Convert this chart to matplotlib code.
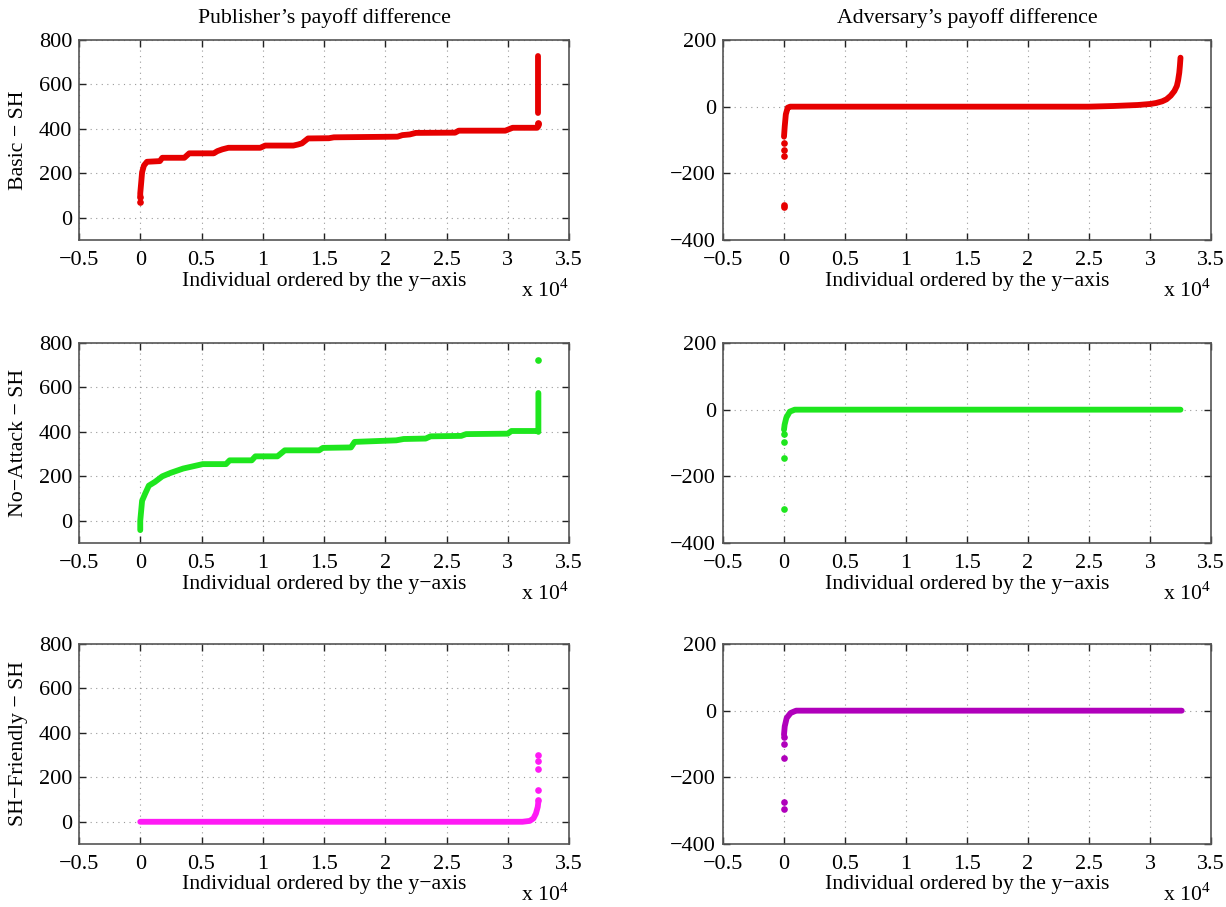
import matplotlib
matplotlib.use("Agg")
import matplotlib.pyplot as plt
from matplotlib.ticker import FuncFormatter, FixedLocator

plt.rcParams['font.family'] = ['Liberation Serif', 'DejaVu Serif']
plt.rcParams['mathtext.fontset'] = 'custom'
plt.rcParams['mathtext.rm'] = 'Liberation Serif'
plt.rcParams['font.size'] = 15

# ---------------- data (x = individual index, y = payoff difference) ----------
col_titles = ["Publisher\u2019s payoff difference", "Adversary\u2019s payoff difference"]
row_labels = ["Basic \u2212 SH", "No\u2212Attack \u2212 SH", "SH\u2212Friendly \u2212 SH"]
xlabel_text = "Individual ordered by the y\u2212axis"

x_ticks = [-5000, 0, 5000, 10000, 15000, 20000, 25000, 30000, 35000]
pub_yticks = [0, 200, 400, 600, 800]
adv_yticks = [-400, -200, 0, 200]

# Publisher, Basic - SH (red)
pub_basic_x = [0, 0, 80, 150, 300, 550, 1600, 1800, 3600, 4000, 6000, 6300, 6700, 7200,
               9800, 10200, 12500, 12900, 13200, 13700, 15400, 15800, 21000, 21400, 22000,
               22500, 25700, 26000, 29800, 30400, 32400, 32500]
pub_basic_y = [100, 110, 160, 205, 235, 252, 255, 270, 270, 290, 290, 300, 308, 315,
               315, 325, 325, 330, 335, 357, 358, 362, 365, 372, 375,
               382, 383, 392, 392, 405, 405, 412]
pub_basic_top_x = [32500, 32500]
pub_basic_top_y = [470, 730]
pub_basic_dots_x = [0, 0, 32500, 32500]
pub_basic_dots_y = [72, 95, 420, 428]

# Publisher, No-Attack - SH (green)
pub_noatt_x = [0, 0, 150, 400, 700, 1200, 1800, 2500, 3500, 4700, 5100, 7000, 7300, 9100,
               9400, 11200, 11800, 14600, 14900, 17200, 17500, 20900, 21500, 23300, 23700,
               26200, 26600, 30000, 30300, 32450, 32500, 32500]
pub_noatt_y = [-42, 0, 90, 122, 158, 175, 200, 216, 235, 250, 255, 255, 272, 272,
               290, 290, 317, 317, 328, 330, 355, 362, 368, 370, 380,
               382, 390, 392, 404, 404, 400, 575]
pub_noatt_dots_x = [32500]
pub_noatt_dots_y = [725]

# Publisher, SH-Friendly - SH (magenta)
pub_shf_x = [0, 31200, 31800, 32100, 32300, 32450, 32500]
pub_shf_y = [0, 0, 4, 15, 37, 67, 90]
pub_shf_dots_x = [32500, 32500, 32500, 32500, 32500]
pub_shf_dots_y = [96, 145, 237, 272, 302]

# Adversary, Basic - SH (red)
adv_basic_x = [0, 60, 150, 300, 500, 25000, 27000, 29000, 30000, 30500, 31000, 31350,
               31700, 32000, 32200, 32300, 32400, 32450, 32500]
adv_basic_y = [-90, -59, -23, -3, 0, 0, 2, 5, 8, 11, 16, 22,
               33, 47, 62, 78, 102, 122, 147]
adv_basic_dots_x = [0, 0, 0, 0, 0]
adv_basic_dots_y = [-294, -300, -147, -130, -110]

# Adversary, No-Attack - SH (green)
adv_noatt_x = [0, 50, 190, 470, 880, 32500]
adv_noatt_y = [-60, -45, -24, -6, 0, 0]
adv_noatt_dots_x = [0, 0, 0, 0]
adv_noatt_dots_y = [-299, -146, -97, -72]

# Adversary, SH-Friendly - SH (purple)
adv_shf_x = [0, 60, 220, 540, 860, 1000, 32600]
adv_shf_y = [-72, -47, -22, -7, -2, 0, 0]
adv_shf_dots_x = [0, 0, 0, 0, 0]
adv_shf_dots_y = [-295, -275, -143, -100, -80]

RED = '#e60000'
GREEN = '#1ee61e'
MAGENTA = '#ff1af5'
PURPLE = '#b000bb'

# ---------------- figure ----------------
fig = plt.figure(figsize=(12.26, 9.07), dpi=100)

lefts = [79 / 1226, 723 / 1226]
widths = [490 / 1226, 488 / 1226]
bottoms = [1 - 240 / 907, 1 - 543 / 907, 1 - 844 / 907]
height = 200 / 907

TICK_FS = 16
LABEL_FS = 15.7

def fmt_x(v, pos):
    s = "%g" % (v / 1e4)
    return s.replace('-', '\u2212')

def fmt_y(v, pos):
    s = "%d" % v
    return s.replace('-', '\u2212')

def style_axes(ax, yticks, ylim):
    ax.set_xlim(-5000, 35000)
    ax.set_ylim(*ylim)
    ax.xaxis.set_major_locator(FixedLocator(x_ticks))
    ax.yaxis.set_major_locator(FixedLocator(yticks))
    ax.xaxis.set_major_formatter(FuncFormatter(fmt_x))
    ax.yaxis.set_major_formatter(FuncFormatter(fmt_y))
    ax.tick_params(direction='in', length=5, width=1, top=True, right=True,
                   color='#222222', labelsize=TICK_FS)
    ax.tick_params(axis='x', pad=8)
    ax.tick_params(axis='y', pad=5)
    for sp in ax.spines.values():
        sp.set_color('#555555')
        sp.set_linewidth(1.2)
    ax.grid(True, linestyle=(0, (1, 4)), color='#9a9a9a', linewidth=0.8)
    ax.set_axisbelow(True)
    ax.set_xlabel(xlabel_text, fontsize=LABEL_FS, labelpad=1)
    ax.annotate('x 10$^{4}$', xy=(1, 0), xycoords='axes fraction',
                xytext=(0, -36.5), textcoords='offset points',
                ha='right', va='center', fontsize=LABEL_FS)

LW = 4.2
MS = 4.8

panels = [
    # (row, col, line_x, line_y, dots_x, dots_y, color)
    (0, 0, pub_basic_x, pub_basic_y, pub_basic_dots_x, pub_basic_dots_y, RED),
    (1, 0, pub_noatt_x, pub_noatt_y, pub_noatt_dots_x, pub_noatt_dots_y, GREEN),
    (2, 0, pub_shf_x, pub_shf_y, pub_shf_dots_x, pub_shf_dots_y, MAGENTA),
    (0, 1, adv_basic_x, adv_basic_y, adv_basic_dots_x, adv_basic_dots_y, RED),
    (1, 1, adv_noatt_x, adv_noatt_y, adv_noatt_dots_x, adv_noatt_dots_y, GREEN),
    (2, 1, adv_shf_x, adv_shf_y, adv_shf_dots_x, adv_shf_dots_y, PURPLE),
]

for row, col, lx, ly, dx, dy, color in panels:
    ax = fig.add_axes([lefts[col], bottoms[row], widths[col], height])
    if col == 0:
        style_axes(ax, pub_yticks, (-100, 800))
        ax.set_ylabel(row_labels[row], fontsize=LABEL_FS)
        ax.yaxis.set_label_coords(-0.104, 0.5)
    else:
        style_axes(ax, adv_yticks, (-400, 200))
    ax.plot(lx, ly, '-', color=color, linewidth=LW, solid_capstyle='round',
            solid_joinstyle='round', zorder=3)
    if row == 0 and col == 0:
        ax.plot(pub_basic_top_x, pub_basic_top_y, '-', color=color, linewidth=LW,
                solid_capstyle='round', zorder=3)
    ax.plot(dx, dy, 'o', color=color, markersize=MS, markeredgewidth=0, zorder=3)
    if row == 0:
        ax.set_title(col_titles[col], fontsize=LABEL_FS, pad=12)

fig.savefig('out.png', dpi=100)
